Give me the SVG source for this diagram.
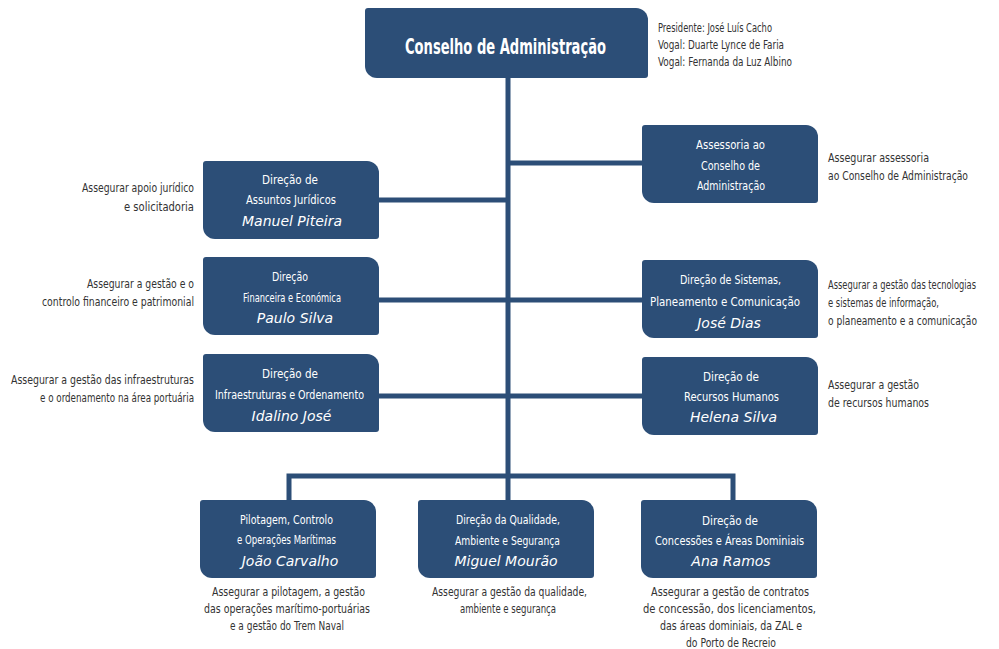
<svg xmlns="http://www.w3.org/2000/svg" xmlns:xlink="http://www.w3.org/1999/xlink" width="999" height="649" viewBox="0 0 999 649">
<style>
.box{fill:#2c4e77}
.conn{fill:none;stroke:#2c4e77;stroke-width:5}
.t{font-family:"DejaVu Sans Condensed","DejaVu Sans",sans-serif;font-size:12.5px;fill:#ffffff;text-anchor:middle}
.n{font-family:"DejaVu Sans","Lato",sans-serif;font-style:italic;font-size:14px;fill:#ffffff;text-anchor:middle}
.d{font-family:"DejaVu Sans Condensed","DejaVu Sans",sans-serif;font-size:12.5px;fill:#333333}
.title{font-family:"DejaVu Sans Condensed","DejaVu Sans",sans-serif;font-size:21px;font-weight:bold;fill:#ffffff;text-anchor:middle}
</style>
<defs>
<path id="nb" d="M3,0 H164 A12,12 0 0 1 176,12 V75 A3,3 0 0 1 173,78 H12 A12,12 0 0 1 0,66 V3 A3,3 0 0 1 3,0 Z"/>
</defs>
<rect width="999" height="649" fill="#ffffff"/>
<g id="connectors">
<path class="conn" d="M508,78 V476"/>
<path class="conn" d="M508,163 H642"/>
<path class="conn" d="M379,200 H508"/>
<path class="conn" d="M379,300 H642"/>
<path class="conn" d="M379,396 H642"/>
<path class="conn" d="M289,500 V476 H733 V500"/>
<path class="conn" d="M508,476 V500"/>
</g>
<g id="ca">
<path class="box" d="M368,8 H636 A12,12 0 0 1 648,20 V75 A3,3 0 0 1 645,78 H377 A12,12 0 0 1 365,66 V11 A3,3 0 0 1 368,8 Z"/>
<text class="title" x="505.5" y="54" textLength="201" lengthAdjust="spacingAndGlyphs">Conselho de Administração</text>
<text class="d" x="658" y="32" textLength="114" lengthAdjust="spacingAndGlyphs">Presidente: José Luís Cacho</text>
<text class="d" x="658" y="49" textLength="126" lengthAdjust="spacingAndGlyphs">Vogal: Duarte Lynce de Faria</text>
<text class="d" x="658" y="66" textLength="134" lengthAdjust="spacingAndGlyphs">Vogal: Fernanda da Luz Albino</text>
</g>
<g id="assessoria">
<use href="#nb" class="box" x="642" y="125"/>
<text class="t" x="730.5" y="149" textLength="69" lengthAdjust="spacingAndGlyphs">Assessoria ao</text>
<text class="t" x="730.5" y="170" textLength="59" lengthAdjust="spacingAndGlyphs">Conselho de</text>
<text class="t" x="731" y="190" textLength="68" lengthAdjust="spacingAndGlyphs">Administração</text>
<text class="d" x="828" y="162" textLength="101" lengthAdjust="spacingAndGlyphs">Assegurar assessoria</text>
<text class="d" x="828" y="180" textLength="140" lengthAdjust="spacingAndGlyphs">ao Conselho de Administração</text>
</g>
<g id="juridicos">
<use href="#nb" class="box" x="203" y="161"/>
<text class="t" x="290" y="184" textLength="56" lengthAdjust="spacingAndGlyphs">Direção de</text>
<text class="t" x="291" y="204" textLength="90" lengthAdjust="spacingAndGlyphs">Assuntos Jurídicos</text>
<text class="n" x="292" y="226">Manuel Piteira</text>
<text class="d" x="194" y="192" text-anchor="end" textLength="112" lengthAdjust="spacingAndGlyphs">Assegurar apoio jurídico</text>
<text class="d" x="194" y="211" text-anchor="end" textLength="70" lengthAdjust="spacingAndGlyphs">e solicitadoria</text>
</g>
<g id="financeira">
<use href="#nb" class="box" x="203" y="257"/>
<text class="t" x="290" y="281" textLength="36" lengthAdjust="spacingAndGlyphs">Direção</text>
<text class="t" x="292" y="302" textLength="98" lengthAdjust="spacingAndGlyphs">Financeira e Económica</text>
<text class="n" x="295" y="323">Paulo Silva</text>
<text class="d" x="194" y="288" text-anchor="end" textLength="107" lengthAdjust="spacingAndGlyphs">Assegurar a gestão e o</text>
<text class="d" x="194" y="306" text-anchor="end" textLength="152" lengthAdjust="spacingAndGlyphs">controlo financeiro e patrimonial</text>
</g>
<g id="infraestruturas">
<use href="#nb" class="box" x="203" y="354"/>
<text class="t" x="290" y="378" textLength="56" lengthAdjust="spacingAndGlyphs">Direção de</text>
<text class="t" x="289.5" y="399" textLength="149" lengthAdjust="spacingAndGlyphs">Infraestruturas e Ordenamento</text>
<text class="n" x="291.5" y="421">Idalino José</text>
<text class="d" x="194" y="384" text-anchor="end" textLength="183" lengthAdjust="spacingAndGlyphs">Assegurar a gestão das infraestruturas</text>
<text class="d" x="194" y="402" text-anchor="end" textLength="154" lengthAdjust="spacingAndGlyphs">e o ordenamento na área portuária</text>
</g>
<g id="sistemas">
<use href="#nb" class="box" x="642" y="260"/>
<text class="t" x="730.5" y="284" textLength="101" lengthAdjust="spacingAndGlyphs">Direção de Sistemas,</text>
<text class="t" x="725" y="306" textLength="150" lengthAdjust="spacingAndGlyphs">Planeamento e Comunicação</text>
<text class="n" x="729" y="328">José Dias</text>
<text class="d" x="828" y="289" textLength="148" lengthAdjust="spacingAndGlyphs">Assegurar a gestão das tecnologias</text>
<text class="d" x="828" y="307" textLength="111" lengthAdjust="spacingAndGlyphs">e sistemas de informação,</text>
<text class="d" x="828" y="325" textLength="149" lengthAdjust="spacingAndGlyphs">o planeamento e a comunicação</text>
</g>
<g id="rh">
<use href="#nb" class="box" x="642" y="357"/>
<text class="t" x="731" y="381" textLength="56" lengthAdjust="spacingAndGlyphs">Direção de</text>
<text class="t" x="731.5" y="401" textLength="95" lengthAdjust="spacingAndGlyphs">Recursos Humanos</text>
<text class="n" x="733.5" y="422">Helena Silva</text>
<text class="d" x="828" y="389" textLength="91" lengthAdjust="spacingAndGlyphs">Assegurar a gestão</text>
<text class="d" x="828" y="407" textLength="101" lengthAdjust="spacingAndGlyphs">de recursos humanos</text>
</g>
<g id="pilotagem">
<use href="#nb" class="box" x="200" y="500"/>
<text class="t" x="286.5" y="524" textLength="93" lengthAdjust="spacingAndGlyphs">Pilotagem, Controlo</text>
<text class="t" x="286.5" y="544" textLength="99" lengthAdjust="spacingAndGlyphs">e Operações Marítimas</text>
<text class="n" x="290" y="566">João Carvalho</text>
<text class="d" x="288.5" y="596" text-anchor="middle" textLength="153" lengthAdjust="spacingAndGlyphs">Assegurar a pilotagem, a gestão</text>
<text class="d" x="287" y="613" text-anchor="middle" textLength="166" lengthAdjust="spacingAndGlyphs">das operações marítimo-portuárias</text>
<text class="d" x="287" y="630" text-anchor="middle" textLength="114" lengthAdjust="spacingAndGlyphs">e a gestão do Trem Naval</text>
</g>
<g id="qualidade">
<use href="#nb" class="box" x="418" y="500"/>
<text class="t" x="508" y="524" textLength="104" lengthAdjust="spacingAndGlyphs">Direção da Qualidade,</text>
<text class="t" x="507.5" y="545" textLength="105" lengthAdjust="spacingAndGlyphs">Ambiente e Segurança</text>
<text class="n" x="506" y="566">Miguel Mourão</text>
<text class="d" x="509.5" y="596" text-anchor="middle" textLength="155" lengthAdjust="spacingAndGlyphs">Assegurar a gestão da qualidade,</text>
<text class="d" x="508" y="613" text-anchor="middle" textLength="96" lengthAdjust="spacingAndGlyphs">ambiente e segurança</text>
</g>
<g id="concessoes">
<use href="#nb" class="box" x="641" y="500"/>
<text class="t" x="730" y="525" textLength="56" lengthAdjust="spacingAndGlyphs">Direção de</text>
<text class="t" x="729.5" y="545" textLength="149" lengthAdjust="spacingAndGlyphs">Concessões e Áreas Dominiais</text>
<text class="n" x="731" y="566">Ana Ramos</text>
<text class="d" x="730" y="596" text-anchor="middle" textLength="158" lengthAdjust="spacingAndGlyphs">Assegurar a gestão de contratos</text>
<text class="d" x="729.5" y="613" text-anchor="middle" textLength="173" lengthAdjust="spacingAndGlyphs">de concessão, dos licenciamentos,</text>
<text class="d" x="731" y="630" text-anchor="middle" textLength="142" lengthAdjust="spacingAndGlyphs">das áreas dominiais, da ZAL e</text>
<text class="d" x="731" y="647" text-anchor="middle" textLength="90" lengthAdjust="spacingAndGlyphs">do Porto de Recreio</text>
</g>
</svg>
